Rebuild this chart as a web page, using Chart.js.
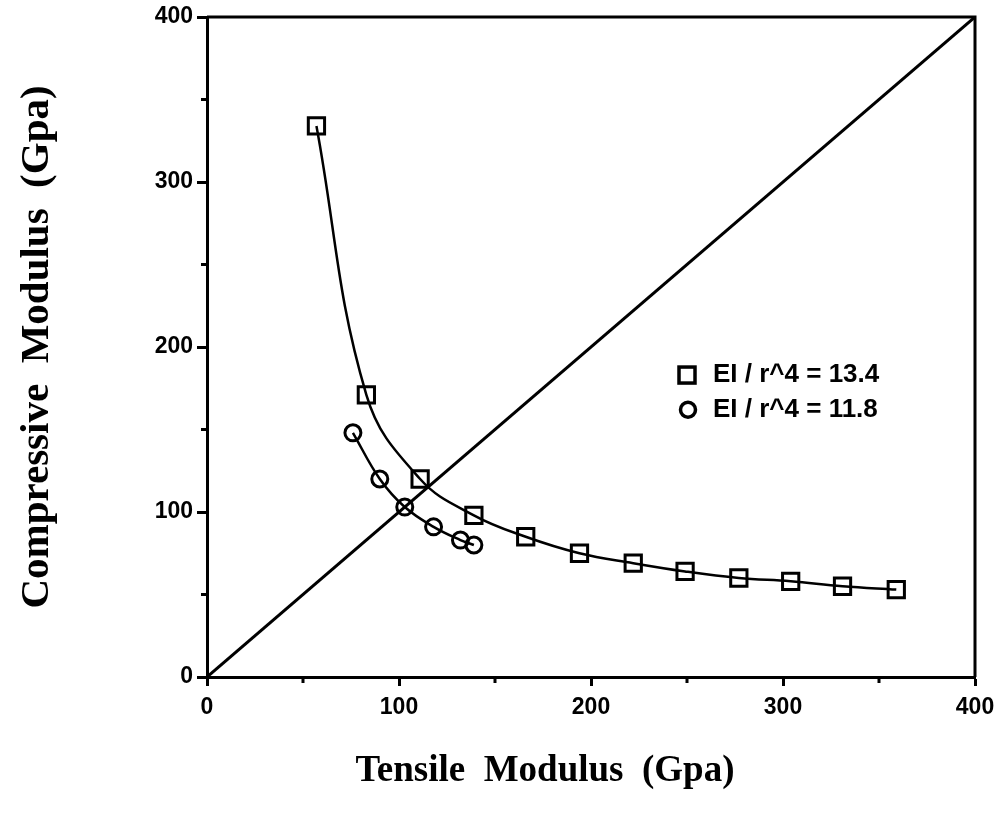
<!DOCTYPE html>
<html>
<head>
<meta charset="utf-8">
<script src="https://cdn.jsdelivr.net/npm/chart.js@4"></script>
<style>
  html, body { margin: 0; padding: 0; background: #fff; }
  #wrap { width: 1004px; height: 820px; }
</style>
</head>
<body>
<div id="wrap"><canvas id="modulusChart"></canvas></div>
<script>

// data
const squareTensile     = [57, 83, 111, 139, 166, 194, 222, 249, 277, 304, 331, 359];
const squareCompressive = [334, 171, 120, 98, 85, 75, 69, 64, 60, 58, 55, 53];
const circleTensile     = [76, 90, 103, 118, 132, 139];
const circleCompressive = [148, 120, 103, 91, 83, 80];
const diagonalLine      = [0, 400];
const majorTicks        = [0, 100, 200, 300, 400];
const minorTicks        = [50, 150, 250, 350];
const legendLabels      = ['EI / r^4 = 13.4', 'EI / r^4 = 11.8'];

const toPoints = (xs, ys) => xs.map((x, i) => ({ x: x, y: ys[i] }));

// --------------------------------------------------------------------------
//   extras: minor ticks, frame, legend, x title
// --------------------------------------------------------------------------

const extrasPlugin = {
    id: 'extras',
    afterDatasetsDraw(chart) {
        const ctx = chart.ctx;
        const area = chart.chartArea;
        const xs = chart.scales.x;
        const ys = chart.scales.y;

        ctx.save();
        ctx.strokeStyle = '#000';
        ctx.lineWidth = 3;

        // top and right frame
        ctx.beginPath();
        ctx.moveTo(area.left, area.top);
        ctx.lineTo(area.right, area.top);
        ctx.lineTo(area.right, area.bottom);
        ctx.stroke();

        // short minor ticks
        ctx.beginPath();
        minorTicks.forEach(v => {
            const px = xs.getPixelForValue(v);
            ctx.moveTo(px, area.bottom);
            ctx.lineTo(px, area.bottom + 6);
            const py = ys.getPixelForValue(v);
            ctx.moveTo(area.left, py);
            ctx.lineTo(area.left - 6, py);
        });
        ctx.stroke();

        // legend
        const lx = xs.getPixelForValue(250);
        const ly1 = ys.getPixelForValue(183);
        const ly2 = ys.getPixelForValue(162);
        ctx.lineWidth = 3.5;
        ctx.strokeRect(lx - 8, ly1 - 8, 16, 16);
        ctx.beginPath();
        ctx.arc(lx + 1, ly2, 7.5, 0, Math.PI * 2);
        ctx.stroke();

        ctx.fillStyle = '#000';
        ctx.font = 'bold 26px "Liberation Sans", Arial, sans-serif';
        ctx.textAlign = 'left';
        ctx.textBaseline = 'middle';
        ctx.fillText(legendLabels[0], lx + 26, ly1);
        ctx.fillText(legendLabels[1], lx + 26, ly2);

        // x axis title
        ctx.font = 'bold 37px "Liberation Serif", "Times New Roman", serif';
        ctx.textAlign = 'center';
        ctx.fillText('Tensile  Modulus  (Gpa)', 545, 771);
        ctx.restore();
    }
};

const tickFont = { family: '"Liberation Sans", Arial, sans-serif', size: 23, weight: 'bold' };

new Chart(document.getElementById('modulusChart'), {
    type: 'scatter',
    data: {
        datasets: [
            {
                label: legendLabels[0],
                data: toPoints(squareTensile, squareCompressive),
                showLine: true,
                tension: 0.4,
                borderColor: '#000',
                borderWidth: 2.5,
                pointStyle: 'rect',
                pointRadius: 11.5,
                pointBorderWidth: 3,
                pointBorderColor: '#000',
                pointBackgroundColor: 'rgba(0,0,0,0)'
            },
            {
                label: legendLabels[1],
                data: toPoints(circleTensile, circleCompressive),
                showLine: true,
                tension: 0.4,
                borderColor: '#000',
                borderWidth: 2.5,
                pointStyle: 'circle',
                pointRadius: 8,
                pointBorderWidth: 3,
                pointBorderColor: '#000',
                pointBackgroundColor: 'rgba(0,0,0,0)'
            },
            {
                label: 'diagonal',
                data: toPoints(diagonalLine, diagonalLine),
                showLine: true,
                borderColor: '#000',
                borderWidth: 3,
                pointRadius: 0
            }
        ]
    },
    options: {
        responsive: true,
        maintainAspectRatio: false,
        animation: false,
        layout: { padding: { top: 17, right: 29, left: 0, bottom: 0 } },
        plugins: {
            legend: { display: false },
            tooltip: { enabled: false }
        },
        scales: {
            x: {
                type: 'linear',
                min: 0,
                max: 400,
                afterBuildTicks: s => { s.ticks = majorTicks.map(v => ({ value: v })); },
                afterFit: s => { s.height = 143; s.paddingLeft = 0; s.paddingRight = 0; },
                ticks: { font: tickFont, color: '#000', padding: 8 },
                grid: { drawOnChartArea: false, tickLength: 9, tickWidth: 3, tickColor: '#000' },
                border: { width: 3, color: '#000' }
            },
            y: {
                type: 'linear',
                min: 0,
                max: 400,
                afterBuildTicks: s => { s.ticks = majorTicks.map(v => ({ value: v })); },
                afterFit: s => { s.width = 207; s.paddingTop = 0; s.paddingBottom = 0; },
                ticks: { font: tickFont, color: '#000', padding: 4 },
                grid: { drawOnChartArea: false, tickLength: 10, tickWidth: 3, tickColor: '#000' },
                border: { width: 3, color: '#000' },
                title: {
                    display: true,
                    text: 'Compressive  Modulus  (Gpa)',
                    color: '#000',
                    font: { family: '"Liberation Serif", "Times New Roman", serif', size: 41, weight: 'bold' },
                    padding: { top: 13, bottom: 0 }
                }
            }
        }
    },
    plugins: [extrasPlugin]
});
</script>
</body>
</html>
